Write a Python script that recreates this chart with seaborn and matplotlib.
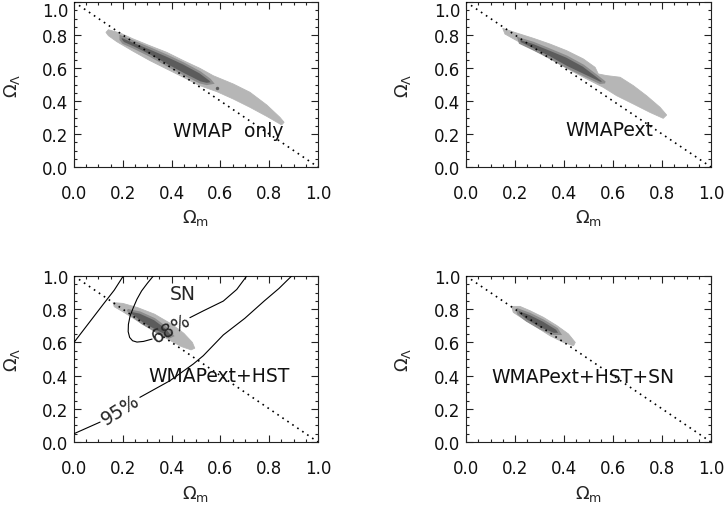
import matplotlib
matplotlib.use("Agg")
import matplotlib.pyplot as plt
from matplotlib.ticker import MultipleLocator
import seaborn as sns

# ------------------------------------------------------------------ data
tick_values = [0.0, 0.2, 0.4, 0.6, 0.8, 1.0]
tick_labels = ["0.0", "0.2", "0.4", "0.6", "0.8", "1.0"]

# flat universe line  Om + OL = 1
flat_om = [0.0, 1.0]
flat_ol = [1.0, 0.0]

panel_names = ["WMAP  only", "WMAPext", "WMAPext+HST", "WMAPext+HST+SN"]
name_om = [0.406, 0.404, 0.305, 0.102]
name_ol = [0.19, 0.194, 0.369, 0.361]

# ---- panel 1 : WMAP only  (95% light, 68% dark) outlines
wmap95_om = [0.141, 0.189, 0.243, 0.311, 0.380, 0.448, 0.516, 0.571, 0.653, 0.721, 0.790, 0.844, 0.861,
             0.851, 0.790, 0.721, 0.653, 0.585, 0.516, 0.448, 0.380, 0.311, 0.243, 0.175, 0.141, 0.131]
wmap95_ol = [0.832, 0.812, 0.776, 0.735, 0.695, 0.645, 0.598, 0.553, 0.503, 0.453, 0.376, 0.301, 0.271,
             0.255, 0.307, 0.362, 0.412, 0.457, 0.493, 0.544, 0.594, 0.645, 0.701, 0.760, 0.796, 0.816]
wmap68_om = [0.191, 0.243, 0.311, 0.380, 0.448, 0.516, 0.557, 0.568,
             0.544, 0.516, 0.448, 0.380, 0.311, 0.243, 0.202, 0.191]
wmap68_ol = [0.792, 0.760, 0.719, 0.675, 0.628, 0.574, 0.529, 0.509,
             0.503, 0.513, 0.564, 0.618, 0.675, 0.725, 0.752, 0.772]
wmap_spot_om = [0.587]
wmap_spot_ol = [0.477]

# ---- panel 2 : WMAPext
ext95_om = [0.150, 0.207, 0.275, 0.343, 0.411, 0.479, 0.527, 0.540, 0.574, 0.629, 0.683, 0.737, 0.792, 0.819,
            0.805, 0.751, 0.683, 0.615, 0.560, 0.520, 0.479, 0.411, 0.343, 0.275, 0.207, 0.159]
ext95_ol = [0.840, 0.812, 0.780, 0.745, 0.705, 0.655, 0.604, 0.564, 0.554, 0.544, 0.493, 0.432, 0.362, 0.315,
            0.295, 0.331, 0.382, 0.432, 0.483, 0.513, 0.544, 0.598, 0.655, 0.711, 0.766, 0.806]
ext68_om = [0.214, 0.275, 0.343, 0.411, 0.479, 0.533, 0.567,
            0.547, 0.479, 0.411, 0.343, 0.275, 0.220]
ext68_ol = [0.780, 0.752, 0.711, 0.669, 0.614, 0.553, 0.513,
            0.510, 0.558, 0.606, 0.663, 0.713, 0.752]

# ---- panel 3 : WMAPext+HST
hst95_om = [0.160, 0.200, 0.260, 0.330, 0.400, 0.450, 0.485, 0.495,
            0.480, 0.440, 0.390, 0.330, 0.260, 0.200, 0.165]
hst95_ol = [0.840, 0.835, 0.810, 0.770, 0.710, 0.655, 0.600, 0.565,
            0.555, 0.575, 0.615, 0.665, 0.730, 0.785, 0.815]
hst68_om = [0.220, 0.270, 0.330, 0.380, 0.405, 0.390, 0.340, 0.280, 0.235]
hst68_ol = [0.795, 0.780, 0.740, 0.685, 0.640, 0.630, 0.665, 0.715, 0.765]

# supernova contours (panel 3)
sn95a_om = [0.0, 0.06, 0.12, 0.165, 0.202]
sn95a_ol = [0.60, 0.715, 0.83, 0.915, 1.0]
sn68a_om = [0.325, 0.300, 0.277, 0.258, 0.243, 0.230, 0.223, 0.222, 0.228, 0.240, 0.258, 0.285, 0.320]
sn68a_ol = [1.000, 0.955, 0.910, 0.860, 0.809, 0.760, 0.709, 0.665, 0.630, 0.610, 0.602, 0.606, 0.620]
sn68b_om = [0.475, 0.530, 0.612, 0.667, 0.708]
sn68b_ol = [0.749, 0.790, 0.849, 0.919, 1.0]
sn95b_om = [0.0, 0.107]
sn95b_ol = [0.05, 0.12]
sn95c_om = [0.27, 0.393, 0.489, 0.530, 0.612, 0.700, 0.780, 0.840, 0.892]
sn95c_ol = [0.269, 0.369, 0.470, 0.520, 0.645, 0.745, 0.850, 0.925, 1.0]
sn_label_pos = (0.393, 0.86)
lab68_pos = (0.400, 0.685)
lab95_pos = (0.190, 0.195)

# ---- panel 4 : WMAPext+HST+SN
all95_om = [0.186, 0.220, 0.261, 0.316, 0.371, 0.418, 0.446,
            0.439, 0.398, 0.343, 0.289, 0.234, 0.193]
all95_ol = [0.817, 0.817, 0.791, 0.751, 0.701, 0.651, 0.600,
            0.580, 0.600, 0.640, 0.691, 0.741, 0.781]
all68_om = [0.207, 0.261, 0.316, 0.371, 0.384, 0.357, 0.302, 0.248, 0.214]
all68_ol = [0.801, 0.771, 0.731, 0.681, 0.651, 0.651, 0.685, 0.731, 0.771]

# ------------------------------------------------------------------ style
sns.set_style("white")
plt.rcParams["font.family"] = ["DejaVu Sans"]
plt.rcParams["mathtext.fontset"] = "dejavusans"

LIGHT = "#b6b6b6"
DARK = "#5c5c5c"
MID = "#8c8c8c"
AXC = "#222222"

fig = plt.figure(figsize=(7.25, 5.06), dpi=100)
W, H = 725.0, 506.0
boxes = [(74, 3, 318, 168), (466, 3, 711, 168), (74, 277, 318, 443), (466, 277, 711, 443)]
axes = []
for (x0, y0, x1, y1) in boxes:
    axes.append(fig.add_axes([x0 / W, 1 - y1 / H, (x1 - x0) / W, (y1 - y0) / H]))


def style(ax, top_row):
    ax.set_xlim(0, 1)
    ax.set_ylim(0, 1)
    ax.set_xticks(tick_values)
    ax.set_xticklabels(tick_labels)
    ax.set_yticks(tick_values)
    ax.set_yticklabels(tick_labels)
    ax.xaxis.set_minor_locator(MultipleLocator(0.05))
    ax.yaxis.set_minor_locator(MultipleLocator(0.05))
    ax.tick_params(which="both", direction="in", top=True, right=True,
                   bottom=True, left=True, color=AXC, width=0.8)
    ax.tick_params(which="major", length=5)
    ax.tick_params(which="minor", length=2.5)
    ax.tick_params(axis="x", which="major", pad=12, labelsize=12, labelcolor="#111")
    ax.tick_params(axis="y", which="major", pad=4, labelsize=12, labelcolor="#111")
    for s in ax.spines.values():
        s.set_linewidth(0.8)
        s.set_color(AXC)
        s.set_visible(True)
    ax.set_xlabel(r"$\Omega_{\rm m}$", fontsize=13)
    ax.set_ylabel(r"$\Omega_\Lambda$", fontsize=13)
    ax.xaxis.set_label_coords(0.5, -0.245)
    ax.yaxis.set_label_coords(-0.215, 0.5)
    if top_row:
        ax.yaxis.get_major_ticks()[-1].label1.set_verticalalignment("top")


def regions(ax, om95, ol95, om68, ol68):
    ax.fill(om95, ol95, color=LIGHT, lw=0.6, ec=LIGHT, zorder=1)
    ax.fill(om68, ol68, color=DARK, lw=1.6, ec=MID, zorder=2)


def flat(ax):
    sns.lineplot(x=flat_om, y=flat_ol, ax=ax, color="k", lw=1.2,
                 linestyle=(0, (1, 2.6)), sort=False, estimator=None, zorder=5)


regions(axes[0], wmap95_om, wmap95_ol, wmap68_om, wmap68_ol)
sns.scatterplot(x=wmap_spot_om, y=wmap_spot_ol, ax=axes[0], color=DARK, s=6,
                linewidth=0, zorder=3)
regions(axes[1], ext95_om, ext95_ol, ext68_om, ext68_ol)
regions(axes[2], hst95_om, hst95_ol, hst68_om, hst68_ol)
regions(axes[3], all95_om, all95_ol, all68_om, all68_ol)

for om, ol in [(sn95a_om, sn95a_ol), (sn68a_om, sn68a_ol), (sn68b_om, sn68b_ol),
               (sn95b_om, sn95b_ol), (sn95c_om, sn95c_ol)]:
    sns.lineplot(x=om, y=ol, ax=axes[2], color="k", lw=0.8, sort=False,
                 estimator=None, zorder=4)

ax3 = axes[2]
ax3.text(*sn_label_pos, "SN", fontsize=13.5, ha="left", va="baseline", zorder=6)
ax3.text(*lab68_pos, "68%", fontsize=13.5, ha="center", va="center",
         rotation=29, rotation_mode="anchor", zorder=6)
ax3.text(*lab95_pos, "95%", fontsize=13.5, ha="center", va="center",
         rotation=32, rotation_mode="anchor", zorder=6)

for i, ax in enumerate(axes):
    flat(ax)
    style(ax, i < 2)
    ax.text(name_om[i], name_ol[i], panel_names[i], fontsize=13.5, ha="left",
            va="baseline", zorder=6, color="#111")

fig.savefig("out.png", dpi=100)
